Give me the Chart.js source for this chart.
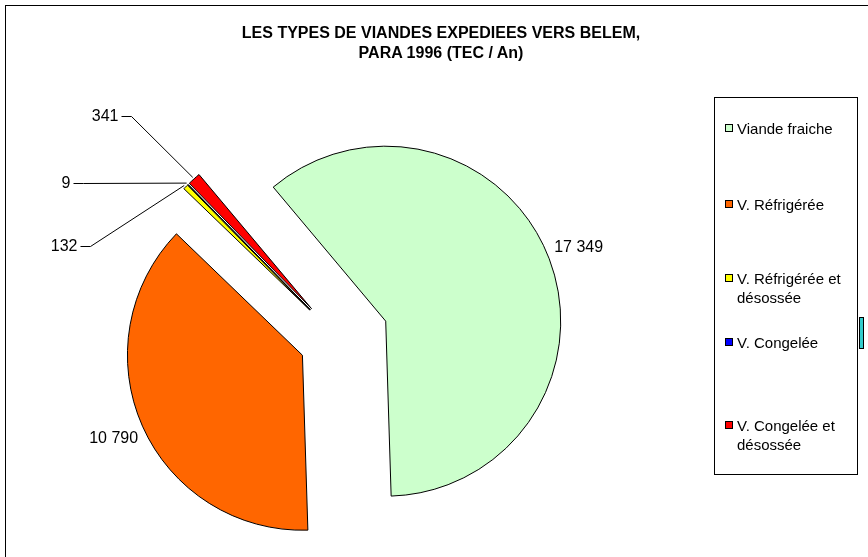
<!DOCTYPE html>
<html lang="fr">
<head>
<meta charset="utf-8">
<title>Types de viandes expédiées vers Belem</title>
<script src="https://cdn.jsdelivr.net/npm/chart.js@4.4.1/dist/chart.umd.min.js"></script>
<style>
  html, body { margin: 0; padding: 0; background: #fff; }
  #wrap { position: relative; width: 868px; height: 557px; overflow: hidden;
          font-family: "Liberation Sans", Arial, sans-serif; color: #000; }
  #frame { position: absolute; left: 5px; top: 5px; width: 900px; height: 600px; border: 1px solid #000; }
  #chart { position: absolute; left: 0; top: 0; }
  #title { position: absolute; left: 141px; width: 600px; top: 23px; text-align: center;
           font-weight: bold; font-size: 16px; line-height: 20px; }
  #legend { position: absolute; left: 714px; top: 97px; width: 142px; height: 376px; border: 1px solid #000; }
  .item { position: absolute; left: 22px; width: 120px; font-size: 15px; line-height: 19px; white-space: normal; }
  .swatch { position: absolute; left: -12px; top: 5.5px; width: 6px; height: 6px; border: 1px solid #000; }
  #handle { position: absolute; left: 859px; top: 317px; width: 3px; height: 30px;
            background: #33cccc; border: 1px solid #000; }
</style>
</head>
<body>
<div id="wrap">
  <div id="frame"></div>
  <canvas id="chart" width="868" height="557"></canvas>
  <div id="title">LES TYPES DE VIANDES EXPEDIEES VERS BELEM,<br>PARA 1996 (TEC / An)</div>
  <div id="legend"></div>
  <div id="handle"></div>
</div>
<script>
// tonnes (TEC) shipped per meat type, 1996
const categories = ["Viande fraiche", "V. Réfrigérée", "V. Réfrigérée et désossée", "V. Congelée", "V. Congelée et désossée"];
const tonnes = [17349, 10790, 132, 9, 341];
const sliceColors = ["#ccffcc", "#ff6600", "#ffff00", "#0000ff", "#ff0000"];

// how far each slice is pulled away from the centre (px)
const explodeBy = [50, 40, 41, 41, 41];
// big slices: label on the bisector; small ones: pulled out with a leader line
const labelSpots = [
  { dist: 1.18 },
  { dist: 1.18 },
  { angle: 196.3, dist: 1.31 },
  { angle: 209.1, dist: 1.49 },
  { angle: 226.9, dist: 1.51 }
];
// top of each legend entry inside the box (px)
const legendTops = [20.5, 96.5, 170.5, 234.5, 317.5];

function fmt(v) {
  return String(v).replace(/\B(?=(\d{3})+(?!\d))/g, " ");
}

// legend
const legend = document.getElementById("legend");
categories.forEach((name, i) => {
  const item = document.createElement("div");
  item.className = "item";
  item.style.top = legendTops[i] + "px";
  const sw = document.createElement("span");
  sw.className = "swatch";
  sw.style.background = sliceColors[i];
  item.appendChild(sw);
  item.appendChild(document.createTextNode(name));
  legend.appendChild(item);
});

const explodePlugin = {
  id: "explode",
  afterDatasetsUpdate(chart) {
    chart.getDatasetMeta(0).data.forEach((arc, i) => {
      const mid = (arc.startAngle + arc.endAngle) / 2;
      arc.x += Math.cos(mid) * explodeBy[i];
      arc.y += Math.sin(mid) * explodeBy[i];
    });
  }
};

const labelPlugin = {
  id: "sliceLabels",
  afterDatasetsDraw(chart) {
    const ctx = chart.ctx;
    ctx.save();
    ctx.font = '16px "Liberation Sans", Arial, sans-serif';
    ctx.fillStyle = "#000";
    ctx.strokeStyle = "#000";
    ctx.lineWidth = 1;
    ctx.textBaseline = "middle";
    chart.getDatasetMeta(0).data.forEach((arc, i) => {
      const spot = labelSpots[i];
      const r = arc.outerRadius;
      const mid = (arc.startAngle + arc.endAngle) / 2;
      const text = fmt(tonnes[i]);
      if (spot.angle === undefined) {
        ctx.textAlign = "center";
        ctx.fillText(text, arc.x + Math.cos(mid) * r * spot.dist, arc.y + Math.sin(mid) * r * spot.dist);
        return;
      }
      const a = spot.angle * Math.PI / 180;
      const tipX = arc.x + Math.cos(mid) * (r + 2);
      const tipY = arc.y + Math.sin(mid) * (r + 2);
      const kneeX = Math.round(arc.x + Math.cos(a) * r * spot.dist) + 0.5;
      const kneeY = Math.round(arc.y + Math.sin(a) * r * spot.dist) + 0.5;
      ctx.beginPath();
      ctx.moveTo(tipX, tipY);
      ctx.lineTo(kneeX, kneeY);
      ctx.lineTo(kneeX - 10, kneeY);
      ctx.stroke();
      ctx.textAlign = "right";
      ctx.fillText(text, kneeX - 13, kneeY);
    });
    ctx.restore();
  }
};

new Chart(document.getElementById("chart"), {
  type: "pie",
  data: {
    labels: categories,
    datasets: [{
      data: tonnes,
      backgroundColor: sliceColors,
      borderColor: "#000",
      borderWidth: 1,
      radius: 175,
      rotation: -40
    }]
  },
  options: {
    responsive: false,
    animation: false,
    events: [],
    layout: { padding: { left: 0, right: 190, top: 121, bottom: 0 } },
    plugins: {
      legend: { display: false },
      title: { display: false },
      tooltip: { enabled: false }
    }
  },
  plugins: [explodePlugin, labelPlugin]
});
</script>
</body>
</html>
